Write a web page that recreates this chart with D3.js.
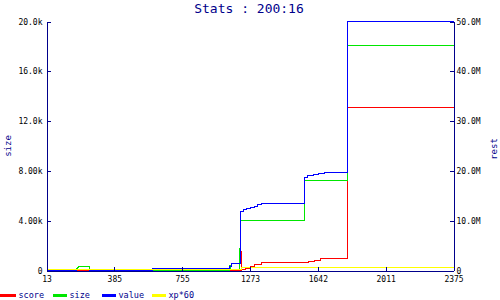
<!DOCTYPE html>
<html>
<head>
<meta charset="utf-8">
<script src="https://cdn.jsdelivr.net/npm/d3@7"></script>
<style>
  body { margin: 0; background: #fff; }
  svg { display: block; }
  text { font-family: "DejaVu Sans Mono", monospace; }
</style>
</head>
<body>
<svg id="chart" width="500" height="300"></svg>
<script>
// x axis labels (ticks are evenly spaced even though the values aren't)
var xTicks = [13, 385, 755, 1273, 1642, 2011, 2375];
var sizeTicks = [0, 4000, 8000, 12000, 16000, 20000];
var restTicks = [0, 10e6, 20e6, 30e6, 40e6, 50e6];

// step series, [x, value] -- size on left axis, the rest on right axis
var score = [[13, 0], [1208, 4.0e6], [1211, 0.14e6], [1239, 0.34e6], [1276, 0.8e6], [1296, 1.2e6],
  [1336, 1.6e6], [1591, 1.8e6], [1624, 2.07e6], [1657, 2.35e6], [1805, 32.7e6], [2375, 32.7e6]];
var size = [[13, 0], [175, 170], [181, 250], [187, 330], [247, 0], [282, 105], [488, 0], [1119, 400], [1123, 105],
  [1193, 1770], [1200, 3990], [1571, 7230], [1805, 18070], [2375, 18070]];
var value = [[13, 0], [177, 0.14e6], [247, 0], [595, 0.35e6], [1119, 0.8e6], [1132, 1.47e6],
  [1200, 11.9e6], [1226, 12.2e6], [1247, 12.45e6], [1276, 12.7e6], [1296, 12.9e6], [1314, 13.2e6],
  [1334, 13.4e6], [1571, 18.7e6], [1584, 19.0e6], [1617, 19.2e6], [1647, 19.4e6], [1680, 19.6e6],
  [1805, 50e6], [2375, 50e6]];
var xp60 = [[13, 0.2e6], [1205, 0.55e6], [2375, 0.55e6]];

var names = ['score', 'size', 'value', 'xp*60'];
var colors = ['#ff0000', '#00e600', '#0000ff', '#ffff00'];
var navy = '#00008b';

// plot box (half pixels so 1px lines stay crisp)
var pLeft = 46.5, pRight = 453.5, pTop = 21.5, pBottom = 270.5;

var svg = d3.select('#chart');

var x = d3.scaleLinear()
  .domain(xTicks)
  .range(xTicks.map(function(d, i) { return pLeft + i * (pRight - pLeft) / (xTicks.length - 1); }));
var yL = d3.scaleLinear().domain([0, 20000]).range([pBottom, pTop]);
var yR = d3.scaleLinear().domain([0, 50e6]).range([pBottom, pTop]);

function fmt(unit, suffix) {
  return function(v) {
    if (v === 0) return '0';
    return (v / unit).toPrecision(3) + suffix;
  };
}

// lines
var series = [[score, yR], [size, yL], [value, yR], [xp60, yR]];
series.forEach(function(s, i) {
  var line = d3.line()
    .x(function(d) { return Math.round(x(d[0]) - 0.5) + 0.5; })
    .y(function(d) { return Math.round(s[1](d[1]) - 0.5) + 0.5; })
    .curve(d3.curveStepAfter);
  svg.append('path')
    .attr('d', line(s[0]))
    .attr('fill', 'none')
    .attr('stroke', colors[i])
    .attr('stroke-width', 1)
    .attr('shape-rendering', 'crispEdges');
});

// axes
function styleAxis(g) {
  g.selectAll('path, line').attr('stroke', navy).attr('shape-rendering', 'crispEdges');
  g.selectAll('text').attr('fill', '#000').style('font-size', '8px').style('font-family', '"DejaVu Sans Mono", monospace');
}

svg.append('g')
  .attr('transform', 'translate(0,' + pBottom + ')')
  .call(d3.axisBottom(x).tickValues(xTicks).tickFormat(d3.format('d')).tickSizeInner(-4).tickSizeOuter(0).tickPadding(6))
  .call(styleAxis);

svg.append('g')
  .attr('transform', 'translate(' + pLeft + ',0)')
  .call(d3.axisLeft(yL).tickValues(sizeTicks).tickFormat(fmt(1000, 'k')).tickSizeInner(-4).tickSizeOuter(0).tickPadding(4))
  .call(styleAxis);

svg.append('g')
  .attr('transform', 'translate(' + pRight + ',0)')
  .call(d3.axisRight(yR).tickValues(restTicks).tickFormat(fmt(1e6, 'M')).tickSizeInner(-4).tickSizeOuter(0).tickPadding(3))
  .call(styleAxis);

// titles
svg.append('text')
  .attr('x', 249).attr('y', 13)
  .attr('text-anchor', 'middle')
  .attr('fill', navy)
  .style('font-size', '13px')
  .text('Stats : 200:16');

svg.append('text')
  .attr('transform', 'translate(11,146) rotate(-90)')
  .attr('text-anchor', 'middle')
  .attr('fill', navy)
  .style('font-size', '9px')
  .text('size');

svg.append('text')
  .attr('transform', 'translate(497,149) rotate(-90)')
  .attr('text-anchor', 'middle')
  .attr('fill', navy)
  .style('font-size', '9px')
  .text('rest');

// legend
var legendX = [2, 53, 102, 152];
var lg = svg.selectAll('.leg').data(names).enter().append('g')
  .attr('class', 'leg')
  .attr('transform', function(d, i) { return 'translate(' + legendX[i] + ',0)'; });
lg.append('line')
  .attr('x1', function(d, i) { return i === 0 ? -2 : 0; }).attr('x2', 14)
  .attr('y1', 295.5).attr('y2', 295.5)
  .attr('stroke', function(d, i) { return colors[i]; })
  .attr('stroke-width', 3);
lg.append('text')
  .attr('x', 16.5).attr('y', 298)
  .attr('fill', navy)
  .style('font-size', '8.5px')
  .text(function(d) { return d; });
</script>
</body>
</html>
